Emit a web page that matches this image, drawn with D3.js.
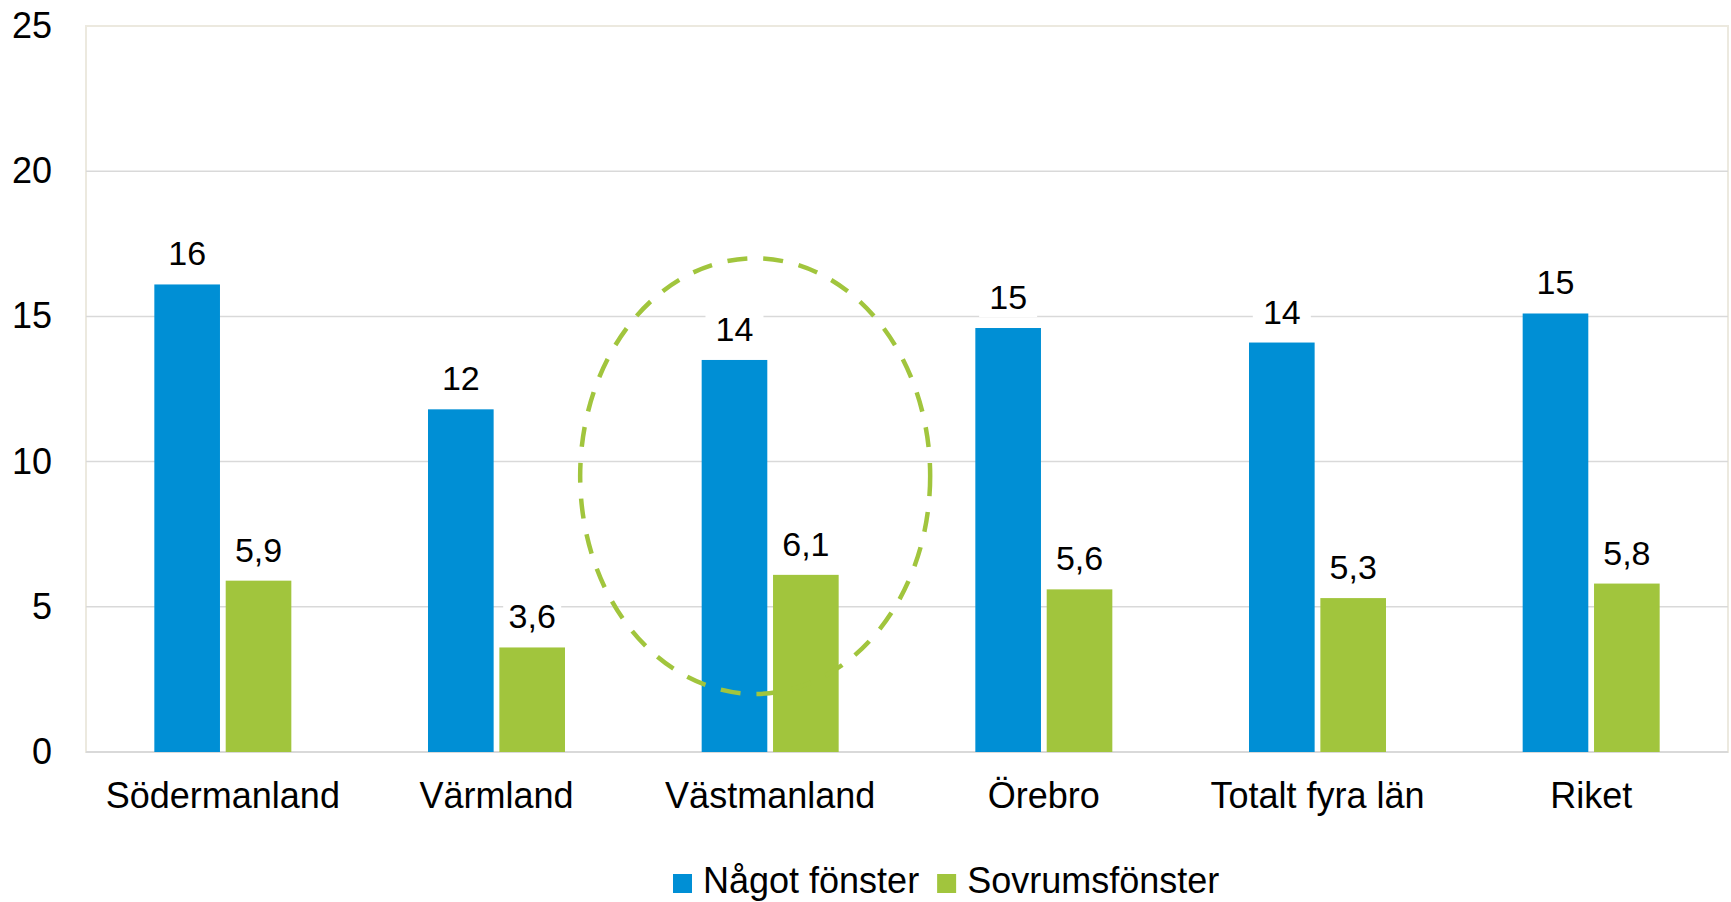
<!DOCTYPE html>
<html>
<head>
<meta charset="utf-8">
<script src="https://cdn.jsdelivr.net/npm/d3@7"></script>
<style>
  body { margin: 0; background: #fff; }
  text { font-family: "Liberation Sans", Arial, sans-serif; fill: #000; }
</style>
</head>
<body>
<div id="chart"></div>
<script>
// data
var categories = ["Södermanland", "Värmland", "Västmanland", "Örebro", "Totalt fyra län", "Riket"];
var seriesNames = ["Något fönster", "Sovrumsfönster"];
var nagotFonster = [16.1, 11.8, 13.5, 14.6, 14.1, 15.1];
var sovrumsFonster = [5.9, 3.6, 6.1, 5.6, 5.3, 5.8];
var yTicks = [0, 5, 10, 15, 20, 25];
var colors = ["#008fd5", "#a1c53d"];

var containerWidth = 1731,
    containerHeight = 902,
    margin = { top: 26, right: 3, bottom: 150, left: 86 },
    width = containerWidth - margin.left - margin.right,
    height = containerHeight - margin.top - margin.bottom;

var svg = d3.select("#chart")
    .append("svg")
    .attr("width", containerWidth)
    .attr("height", containerHeight);

var g = svg.append("g")
    .attr("transform", "translate(" + margin.left + "," + margin.top + ")");

var x = d3.scaleBand().domain(categories).range([0, width]);
var y = d3.scaleLinear().domain([0, 25]).range([height, 0]);

var barW = 63, barGap = 11;
var xs = d3.scaleBand().domain(seriesNames)
    .range([x.bandwidth() / 2 - barW - barGap / 2, x.bandwidth() / 2 + barW + barGap / 2])
    .paddingInner(barGap / (2 * barW + barGap));

// plot border
g.append("rect")
    .attr("x", 0).attr("y", 0)
    .attr("width", width).attr("height", height)
    .attr("fill", "none")
    .attr("stroke", "#ece9df")
    .attr("stroke-width", 2);

// gridlines
g.selectAll(".grid")
    .data(yTicks.filter(function(d) { return d > 0 && d < 25; }))
    .enter().append("line")
    .attr("x1", 0).attr("x2", width)
    .attr("y1", function(d) { return y(d); })
    .attr("y2", function(d) { return y(d); })
    .attr("stroke", "#d9d9d9")
    .attr("stroke-width", 1.5);

g.append("line")
    .attr("x1", 0).attr("x2", width)
    .attr("y1", y(0)).attr("y2", y(0))
    .attr("stroke", "#d9d9d9")
    .attr("stroke-width", 2);

// y axis labels
var yAxis = d3.axisLeft(y).tickValues(yTicks).tickSize(0).tickPadding(34);
var yg = g.append("g").call(yAxis);
yg.select(".domain").remove();
yg.selectAll("text").style("font-size", "36px").style("font-family", "Liberation Sans, Arial, sans-serif").attr("fill", "#000");

// x axis labels
var xAxis = d3.axisBottom(x).tickSize(0).tickPadding(30);
var xg = g.append("g").attr("transform", "translate(0," + height + ")").call(xAxis);
xg.select(".domain").remove();
xg.selectAll("text").style("font-size", "36px").style("font-family", "Liberation Sans, Arial, sans-serif").attr("fill", "#000");

// bars
var rows = categories.map(function(c, i) {
    return [
        { cat: c, s: seriesNames[0], v: nagotFonster[i], label: String(Math.round(nagotFonster[i])) },
        { cat: c, s: seriesNames[1], v: sovrumsFonster[i], label: sovrumsFonster[i].toFixed(1).replace(".", ",") }
    ];
});
var flat = [].concat.apply([], rows);

g.selectAll(".bar")
    .data(flat)
    .enter().append("rect")
    .attr("x", function(d) { return x(d.cat) + xs(d.s); })
    .attr("y", function(d) { return y(d.v); })
    .attr("width", xs.bandwidth())
    .attr("height", function(d) { return y(0) - y(d.v); })
    .attr("fill", function(d) { return colors[seriesNames.indexOf(d.s)]; });

// value labels with white box
var lab = g.selectAll(".lab")
    .data(flat)
    .enter().append("g")
    .attr("transform", function(d) {
        return "translate(" + (x(d.cat) + xs(d.s) + xs.bandwidth() / 2) + "," + (y(d.v) - 19) + ")";
    });
lab.append("rect")
    .attr("x", -29).attr("y", -32)
    .attr("width", 58).attr("height", 40)
    .attr("fill", "#fff");
lab.append("text")
    .attr("text-anchor", "middle")
    .style("font-size", "34px")
    .text(function(d) { return d.label; });

// dashed ellipse annotation around Västmanland
g.append("ellipse")
    .attr("cx", x("Västmanland") + x.bandwidth() / 2 - 15)
    .attr("cy", y(9.5))
    .attr("rx", 175)
    .attr("ry", (y(2) - y(17)) / 2)
    .attr("fill", "none")
    .attr("stroke", colors[1])
    .attr("stroke-width", 4.5)
    .attr("stroke-dasharray", "20,16");

// legend
var legend = svg.append("g").attr("transform", "translate(673,893)");
var lx = 0;
seriesNames.forEach(function(name, i) {
    legend.append("rect")
        .attr("x", lx).attr("y", -19)
        .attr("width", 19).attr("height", 19)
        .attr("fill", colors[i]);
    var t = legend.append("text")
        .attr("x", lx + 30)
        .attr("y", 0)
        .style("font-size", "36px")
        .text(name);
    lx += 30 + t.node().getComputedTextLength() + 18;
});
</script>
</body>
</html>
